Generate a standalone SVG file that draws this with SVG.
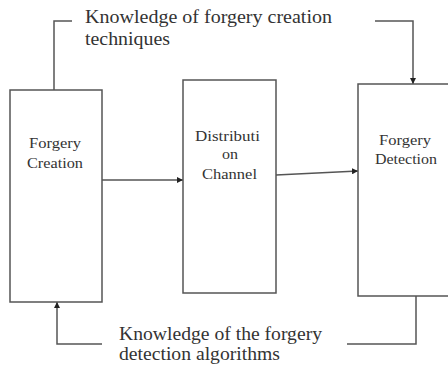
<svg xmlns="http://www.w3.org/2000/svg" width="448" height="371" viewBox="0 0 448 371">
<style>
.box{fill:#fff;stroke:#555;stroke-width:1.5}
.ln{fill:none;stroke:#555;stroke-width:1.5}
text{font-family:'Liberation Serif','DejaVu Serif','Times New Roman',serif;fill:#333}
.big{font-size:18px}
.sm{font-size:15px}
</style>
<defs>
<marker id="ah" viewBox="0 0 10 10" refX="10" refY="5" markerWidth="6" markerHeight="6" orient="auto" markerUnits="userSpaceOnUse">
<path d="M0,0 L10,5 L0,10 z" fill="#222"/>
</marker>
</defs>
<rect width="448" height="371" fill="#fff"/>
<g id="connectors">
<polyline class="ln" points="72,21 54,21 54,90"/>
<polyline class="ln" points="375,21 413,21 413,84" marker-end="url(#ah)"/>
<line class="ln" x1="102" y1="180" x2="183" y2="180" marker-end="url(#ah)"/>
<line class="ln" x1="276" y1="175" x2="358" y2="171" marker-end="url(#ah)"/>
<polyline class="ln" points="347,344 416,344 416,296"/>
<polyline class="ln" points="102,344 57,344 57,302" marker-end="url(#ah)"/>
</g>
<g id="label-top">
<text class="big" x="85" y="23" textLength="247" lengthAdjust="spacingAndGlyphs">Knowledge of forgery creation</text>
<text class="big" x="85" y="45" textLength="85" lengthAdjust="spacingAndGlyphs">techniques</text>
</g>
<g id="label-bottom">
<text class="big" x="119" y="340" textLength="203" lengthAdjust="spacingAndGlyphs">Knowledge of the forgery</text>
<text class="big" x="119" y="360" textLength="161" lengthAdjust="spacingAndGlyphs">detection algorithms</text>
</g>
<g id="forgery-creation">
<rect class="box" x="10" y="90" width="92" height="212"/>
<text class="sm" x="29" y="148" textLength="52" lengthAdjust="spacingAndGlyphs">Forgery</text>
<text class="sm" x="27" y="168" textLength="56" lengthAdjust="spacingAndGlyphs">Creation</text>
</g>
<g id="distribution-channel">
<rect class="box" x="183" y="80" width="93" height="213"/>
<text class="sm" x="195" y="141" textLength="65" lengthAdjust="spacingAndGlyphs">Distributi</text>
<text class="sm" x="222" y="159" textLength="16" lengthAdjust="spacingAndGlyphs">on</text>
<text class="sm" x="202" y="179" textLength="55" lengthAdjust="spacingAndGlyphs">Channel</text>
</g>
<g id="forgery-detection">
<rect class="box" x="358" y="84" width="110" height="212"/>
<text class="sm" x="379" y="145" textLength="52" lengthAdjust="spacingAndGlyphs">Forgery</text>
<text class="sm" x="375" y="164" textLength="62" lengthAdjust="spacingAndGlyphs">Detection</text>
</g>
</svg>
